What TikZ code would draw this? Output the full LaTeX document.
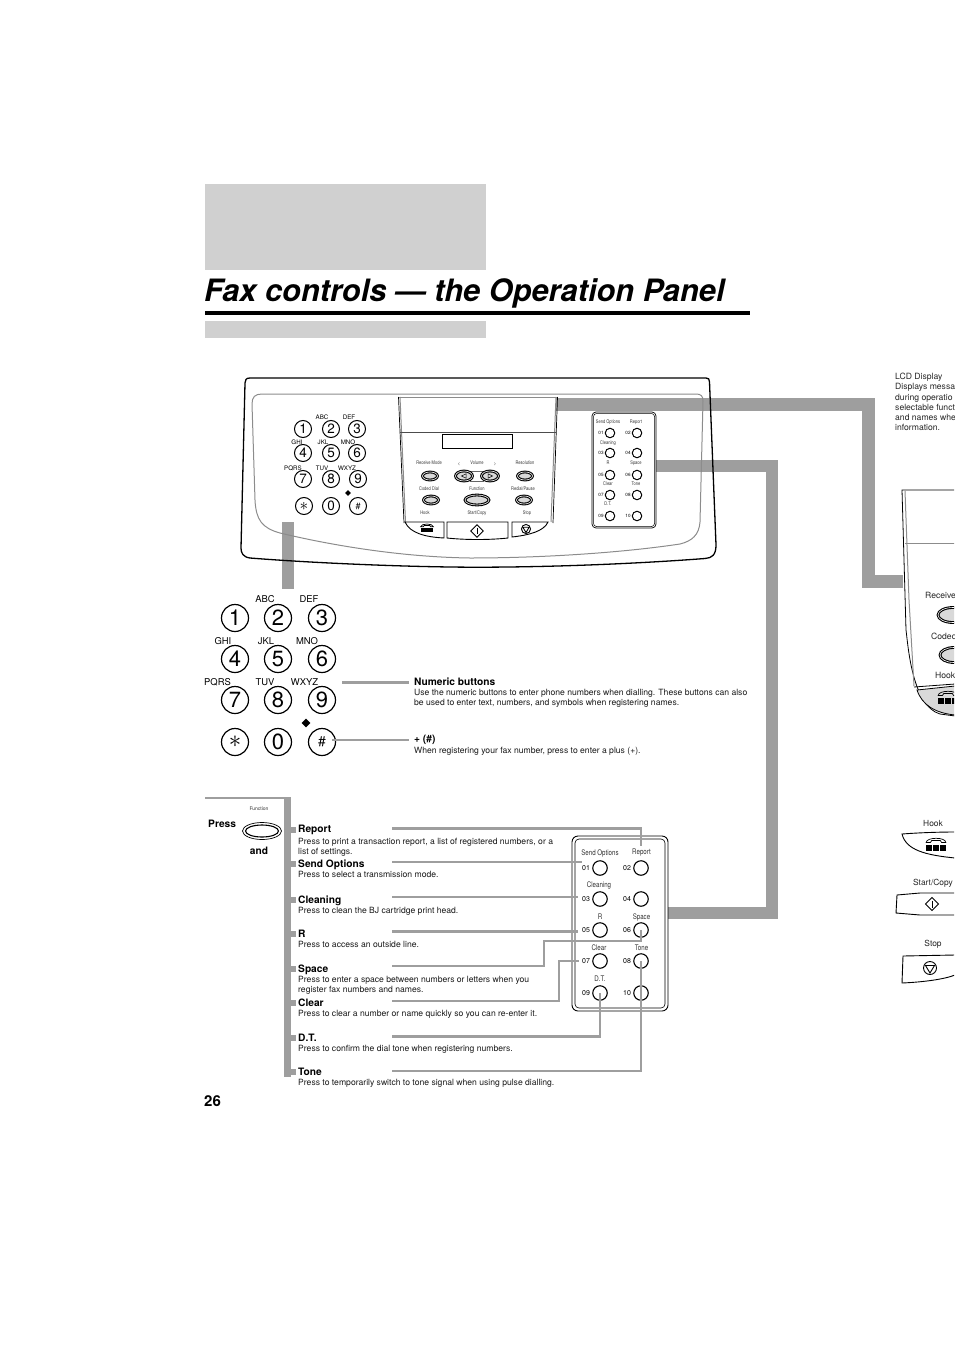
\documentclass[tikz,border=0pt]{standalone}
\usepackage{fontspec}
\setmainfont{TeX Gyre Heros}
\newfontfamily\condfont[FakeStretch=0.8]{TeX Gyre Heros}
\usetikzlibrary{shapes.geometric,positioning}
\definecolor{band}{HTML}{9E9E9E}
\definecolor{pale}{HTML}{D0D0D0}
\definecolor{lab}{HTML}{333333}
\tikzset{
  bandline/.style={draw=band,line width=12.5pt,line join=miter},
  wire/.style={draw=band,line width=2.4pt,line join=miter},
  softline/.style={draw=black!45,line width=1pt,line join=round},
  head/.style={anchor=base west,inner sep=0,font=\fontsize{10.2}{11}\bfseries\selectfont},
  body/.style={anchor=base west,inner sep=0,font=\fontsize{8.6}{10}\selectfont,text=black!90},
  side/.style={anchor=base west,inner sep=0,font=\fontsize{8.6}{10}\selectfont,text=black!85},
  sidelab/.style={anchor=base,inner sep=0,font=\fontsize{8.4}{10}\selectfont,text=black!85},
  tiny/.style={anchor=center,inner sep=0,font=\condfont\fontsize{5}{6}\selectfont,text=lab},
  minilab/.style={anchor=center,inner sep=0,font=\condfont\fontsize{7.7}{8}\selectfont,text=lab},
  keybig/.style={circle,draw=black,line width=1.2pt,fill=white,minimum size=27pt,inner sep=0,font=\fontsize{22}{22}\selectfont},
  keysmall/.style={circle,draw=black,line width=1pt,fill=white,minimum size=17pt,inner sep=0,font=\fontsize{13.5}{14}\selectfont},
  ltrbig/.style={anchor=center,inner sep=0,font=\fontsize{9.4}{10}\selectfont},
  ltrsmall/.style={anchor=center,inner sep=0,font=\fontsize{6.2}{7}\selectfont},
  oval/.style={ellipse,draw=black,line width=1.1pt,fill=black!15,double=white,double distance=.6pt,inner sep=0},
  round btn/.style={circle,draw=black,line width=1pt,fill=white,inner sep=0},
  rowno/.style={anchor=center,inner sep=0,font=\fontsize{7}{8}\selectfont},
  rowsmall/.style={anchor=center,inner sep=0,font=\fontsize{4.6}{5}\selectfont},
  gem/.style={diamond,fill=black,inner sep=0,minimum size=#1},
}
\newcommand{\phonemark}[3]{%
  \begin{scope}[shift={(#1,#2)},scale=#3]
    \draw[line width=.7pt] (-7,-2.5) .. controls (-7,-6.5) and (7,-6.5) .. (7,-2.5) -- (4,-2.5) -- (3,-4) -- (-3,-4) -- (-4,-2.5) -- cycle;
    \fill (-7,-.8) rectangle (-2.6,3.6);
    \fill (-2.2,-.8) rectangle (2.2,3.6);
    \fill (2.6,-.8) rectangle (7,3.6);
  \end{scope}}
\newcommand{\startmark}[3]{%
  \begin{scope}[shift={(#1,#2)},scale=#3]
    \draw[line width=.9pt,fill=white] (-6.5,0) -- (0,-6.5) -- (6.5,0) -- (0,6.5) -- cycle;
    \draw[line width=1pt] (0,-3.5) -- (0,3.5);
  \end{scope}}
\newcommand{\stopmark}[3]{%
  \begin{scope}[shift={(#1,#2)},scale=#3]
    \draw[line width=.9pt] (0,0) circle (6.5);
    \draw[line width=.9pt] (-4.5,-2.5) -- (4.5,-2.5) -- (0,5) -- cycle;
  \end{scope}}
\begin{document}
\begin{tikzpicture}[x=1pt,y=-1pt]
\useasboundingbox (0,0) rectangle (954,1351);
\clip (0,0) rectangle (954,1351);

% header blocks
\fill[pale] (205,184) rectangle (486,270);
\fill[black] (205,311) rectangle (750,315);
\fill[pale] (205,321) rectangle (486,338);
\node[anchor=base west,inner sep=0,font=\fontsize{30.8}{31}\bfseries\itshape\selectfont] (title) at (204,301) {Fax controls --- the Operation Panel};

% bands behind the panel
\coordinate (bandAs) at (556,404.5);
\coordinate (bandAa) at (868.5,404.5);
\coordinate (bandAb) at (868.5,581.5);
\coordinate (bandAe) at (903,581.5);
\draw[bandline] (bandAs) -- (bandAa) -- (bandAb) -- (bandAe);
\coordinate (bandBs) at (656,466);
\coordinate (bandBa) at (772,466);
\coordinate (bandBb) at (772,913);
\coordinate (bandBe) at (668,913);
\draw[bandline] (bandBs) -- (bandBa) -- (bandBb) -- (bandBe);
\coordinate (bandCs) at (288,522);
\coordinate (bandCe) at (288,589);
\draw[bandline] (bandCs) -- (bandCe);

% operation panel
\draw[line width=1.3pt,line join=round] (250,378) -- (706,378) .. controls (709,378) and (709,379) .. (709.5,382) -- (716,545) .. controls (716,555) and (712,558) .. (705,558.5) .. controls (620,565) and (520,568) .. (450,567) .. controls (380,566) and (300,562) .. (250,558) .. controls (243,557) and (241,553) .. (241,548) -- (245,383) .. controls (245,380) and (246,378) .. (250,378) -- cycle;
\draw[softline] (262,394) -- (696,394) .. controls (701,394) and (703,396) .. (703,401) -- (700,522) .. controls (699,535) and (692,541) .. (680,544) .. controls (620,553) and (540,558) .. (470,558) .. controls (400,557) and (330,545) .. (280,533) .. controls (262,528) and (256,520) .. (255,500) -- (252,404) .. controls (252,397) and (255,394) .. (262,394) -- cycle;

% display housing
\draw[softline] (400,397) -- (405.5,522);
\draw[line width=.7pt] (398.5,397) -- (404,523);
\draw[softline] (556,397) -- (551,522);
\draw[line width=.7pt] (557.5,397) -- (553,523);
\draw[softline] (399,397.5) -- (557,397.5);
\draw[line width=.7pt,black!70] (400,432) -- (556,432);
\draw[line width=1pt] (442,434.5) rectangle (512,448.5);
\draw[line width=.9pt] (405,522) -- (444,522) -- (444,538) .. controls (425,537) and (410,533) .. (405,522) -- cycle;
\draw[line width=.9pt] (447,522) -- (508,522) -- (508,538) .. controls (490,540) and (465,540) .. (447,538) -- cycle;
\draw[line width=.9pt] (512,522) -- (548,522) .. controls (544,531) and (530,535) .. (512,537) -- cycle;
\phonemark{427}{529}{.9}
\startmark{477}{531}{.95}
\stopmark{526}{529}{.7}

% panel ovals
\foreach \n/\x/\y/\w/\h in {recv/430/476/15/8,res/525/476/15/8,coded/431/500/15/8,func/477/500/24/10,redial/524/500/15/8}
  \node[oval,minimum width=\w pt,minimum height=\h pt] (pan\n) at (\x,\y) {};
\draw[line width=.7pt,black!60] (470,471) -- (484,471) (470,481) -- (484,481);
\foreach \n/\x in {volL/464,volR/490}
  \node[oval,minimum width=17pt,minimum height=10pt] (pan\n) at (\x,476) {};
\draw[line width=.5pt] (461.5,476) -- (466,473.8) -- (466,478.2) -- cycle;
\draw[line width=.5pt] (492.5,476) -- (488,473.8) -- (488,478.2) -- cycle;
\foreach \n/\x/\y/\t in {a/429/463/Receive Mode,b/459/464/<,c/477/463/Volume,d/495/464/>,e/525/463/Resolution,f/429/489/Coded Dial,g/477/489/Function,h/523/489/{Redial/Pause},i/425/513/Hook,j/477/513/{Start/Copy},k/527/513/Stop}
  \node[tiny] (pl\n) at (\x,\y) {\t};

% small keypad on panel
\foreach \n/\x/\y/\t in {1/303/429/1,2/331/429/2,3/357/429/3,4/303/453/4,5/331/453/5,6/357/453/6,7/303/479/7,8/331/479/8,9/358/479/9,0/331/506/0}
  \node[keysmall] (s\n) at (\x,\y) {\t};
\node[keysmall,font=\fontsize{9}{9}\selectfont] (sh) at (358,506) {\#};
\node[keysmall,font=\fontsize{19}{19}\selectfont] (sast) at (304,506) {$\ast$};
\foreach \n/\x/\y/\t in {a/322/417/ABC,b/349/417/DEF,c/297/442/GHI,d/323/442/JKL,e/348/442/MNO,f/293/468/PQRS,g/322/468/TUV,h/347/468/WXYZ}
  \node[ltrsmall] (sl\n) at (\x,\y) {\t};
\node[gem=6pt] (sgem) at (348,493) {};

% memory strip on panel
\draw[line width=.7pt,rounded corners=4pt] (592,412) rectangle (656,528);
\draw[line width=.5pt,rounded corners=3pt] (593.5,413.5) rectangle (654.5,526.5);
\foreach \n/\x/\y/\t in {01/610/433/01,02/637/433/02,03/610/453/03,04/637/453/04,05/610/475/05,06/637/475/06,07/610/495/07,08/637/495/08,09/610/516/09,10/637/516/10}{
  \node[round btn,minimum size=9.5pt] (p\n) at (\x,\y) {};
  \node[rowsmall,left=1pt of p\n] (pn\n) {\t};
}
\foreach \n/\x/\y/\t in {a/608/422/Send Options,b/636/422/Report,c/608/443/Cleaning,d/608/463/R,e/636/463/Space,f/608/484/Clear,g/636/484/Tone,h/608/504/D.T.}
  \node[tiny] (pm\n) at (\x,\y) {\t};

% large keypad
\foreach \n/\x/\y/\t in {1/235/618/1,2/278/618/2,3/322/618/3,4/235/659/4,5/278/659/5,6/322/659/6,7/235/700/7,8/278/700/8,9/322/700/9,0/278/742/0}
  \node[keybig] (b\n) at (\x,\y) {\t};
\node[keybig,font=\fontsize{30}{30}\selectfont] (bast) at (235,742) {$\ast$};
\node[keybig,font=\fontsize{14}{14}\selectfont] (bh) at (322,742) {\#};
\foreach \n/\x/\y/\t in {a/265/599/ABC,b/309/599/DEF,c/223/641/GHI,d/266/641/JKL,e/307/641/MNO,f/217.5/682/PQRS,g/265/682/TUV,h/304.5/682/WXYZ}
  \node[ltrbig] (bl\n) at (\x,\y) {\t};
\node[gem=9pt] (bgem) at (306,723) {};

% numeric text
\node[head] (tnum) at (414,685) {Numeric buttons};
\node[body] (tnum1) at (414,695) {Use the numeric buttons to enter phone numbers when dialling. These buttons can also};
\node[body] (tnum2) at (414,705) {be used to enter text, numbers, and symbols when registering names.};
\node[head] (tplus) at (414,742) {+ (\#)};
\node[body] (tplus1) at (414,753) {When registering your fax number, press to enter a plus (+).};
\coordinate (numS) at (342,682.5);
\coordinate (numE) at (409,682.5);
\draw[draw=band,line width=2.6pt] (numS) -- (numE);
\coordinate (hashS) at (332,740);
\coordinate (hashE) at (409,740);
\draw[draw=band,line width=1.4pt] (hashS) -- (hashE);

% press block
\coordinate (brT) at (287.5,798);
\coordinate (brL) at (205,798);
\coordinate (brB) at (287.5,1077);
\draw[draw=band,line width=2pt] (brL) -- (brT);
\draw[draw=band,line width=7.5pt] (287.5,797) -- (brB);
\foreach \n/\y in {a/829.5,b/864,c/900,d/934,e/969,f/1003,g/1038,h/1072}
  \fill[band] (290,\y-3) rectangle (296,\y+3);
\node[head] (tpress) at (208,827) {Press};
\node[tiny,font=\fontsize{5}{6}\selectfont] (tfun) at (259,809) {Function};
\node[ellipse,draw=black,line width=.7pt,fill=white,minimum width=39pt,minimum height=17pt,inner sep=0] (poval) at (262,831) {};
\node[ellipse,draw=black,line width=1.1pt,fill=white,minimum width=33pt,minimum height=12pt,inner sep=0] (poval2) at (262,831) {};
\node[head,anchor=base] (tand) at (259,854) {and};

% function list
\node[head] (h1) at (298,832.5) {Report};
\node[body] (t1a) at (298,844) {Press to print a transaction report, a list of registered numbers, or a};
\node[body] (t1b) at (298,854) {list of settings.};
\node[head] (h2) at (298,867) {Send Options};
\node[body] (t2) at (298,877) {Press to select a transmission mode.};
\node[head] (h3) at (298,903) {Cleaning};
\node[body] (t3) at (298,913) {Press to clean the BJ cartridge print head.};
\node[head] (h4) at (298,937) {R};
\node[body] (t4) at (298,947) {Press to access an outside line.};
\node[head] (h5) at (298,972) {Space};
\node[body] (t5a) at (298,982) {Press to enter a space between numbers or letters when you};
\node[body] (t5b) at (298,992) {register fax numbers and names.};
\node[head] (h6) at (298,1006) {Clear};
\node[body] (t6) at (298,1016) {Press to clear a number or name quickly so you can re-enter it.};
\node[head] (h7) at (298,1041) {D.T.};
\node[body] (t7) at (298,1051) {Press to confirm the dial tone when registering numbers.};
\node[head] (h8) at (298,1075) {Tone};
\node[body] (t8) at (298,1085) {Press to temporarily switch to tone signal when using pulse dialling.};
\node[anchor=base west,inner sep=0,font=\fontsize{15}{16}\bfseries\selectfont] (pageno) at (204,1106) {26};

% enlarged strip
\draw[line width=.9pt,rounded corners=6pt] (572,836) rectangle (668,1011);
\draw[line width=.6pt,rounded corners=4pt] (575,839) rectangle (665,1008);
\foreach \n/\x/\y/\t in {01/600/868/01,02/641/868/02,03/600/899/03,04/641/899/04,05/600/930/05,06/641/930/06,07/600/961/07,08/641/961/08,09/600/993/09,10/641/993/10}{
  \node[round btn,line width=1.1pt,minimum size=14.5pt] (m\n) at (\x,\y) {};
  \node[rowno,left=2pt of m\n] (mn\n) {\t};
}
\foreach \n/\x/\y/\t in {a/600/853/Send Options,b/641.5/853/Report,c/599/885/Cleaning,d/600/917/R,e/641.5/917/Space,f/599/948/Clear,g/641.5/948/Tone,h/600/979/D.T.}
  \node[minilab] (ml\n) at (\x,\y) {\t};

% connectors to the enlarged strip
\coordinate (w1s) at (392,828.5);
\coordinate (w1e) at (641,846);
\draw[wire] (w1s) -| (w1e);
\coordinate (w2s) at (392,862);
\coordinate (w2e) at (582,862);
\draw[wire] (w2s) -- (w2e);
\coordinate (w3s) at (392,897);
\coordinate (w3e) at (578,897);
\draw[wire] (w3s) -- (w3e);
\coordinate (w4s) at (392,931.5);
\coordinate (w4e) at (578,931.5);
\draw[wire] (w4s) -- (w4e);
\coordinate (w5s) at (392,966);
\coordinate (w5a) at (544,966);
\coordinate (w5b) at (544,941);
\draw[wire] (w5s) -- (w5a) -- (w5b) -| (m06.center);
\coordinate (w6s) at (392,1001);
\coordinate (w6a) at (559,1001);
\coordinate (w6b) at (559,961);
\coordinate (w6e) at (579,961);
\draw[wire] (w6s) -- (w6a) -- (w6b) -- (w6e);
\coordinate (w7s) at (392,1036.5);
\draw[wire] (w7s) -| (m09.center);
\coordinate (w8s) at (392,1071);
\draw[wire] (w8s) -| (m08.center);

% LCD note, cut by the page edge
\node[side] (lcd1) at (895,379) {LCD Display};
\node[side] (lcd2) at (895,389) {Displays messa};
\node[side] (lcd3) at (895,400) {during operatio};
\node[side] (lcd4) at (895,410) {selectable funct};
\node[side] (lcd5) at (895,420) {and names whe};
\node[side] (lcd6) at (895,430) {information.};

% panel fragment at the page edge
\draw[line width=.8pt] (955,490) -- (902,490) -- (906,630) .. controls (908,645) and (912,706) .. (940,714) -- (955,716);
\draw[softline] (905,491) -- (909,600) -- (914,686);
\draw[softline] (905,543.5) -- (955,543.5);
\draw[line width=.8pt] (914,687) -- (955,684);
\draw[line width=.8pt,fill=black!15] (917,690) -- (955,686) -- (955,715) .. controls (935,713) and (922,705) .. (917,690) -- cycle;
\phonemark{948}{699}{1.4}
\node[side] (fr1) at (925,598) {Receive};
\node[side] (fr2) at (931,639) {Codec};
\node[side] (fr3) at (935,678) {Hook};
\node[oval,minimum width=30pt,minimum height=15pt] (fro1) at (953,615) {};
\node[oval,minimum width=28pt,minimum height=15pt] (fro2) at (954,655) {};

% buttons at the page edge
\node[sidelab] (lhook) at (933,826) {Hook};
\draw[line width=.9pt] (955,832) .. controls (935,832) and (915,833) .. (902,834) .. controls (906,850) and (925,855) .. (955,858);
\phonemark{936}{846}{1.4}
\node[sidelab] (lstart) at (933,885) {Start/Copy};
\draw[line width=.9pt] (955,893) -- (920,893) -- (897,895) -- (896,913) -- (920,915) -- (955,915);
\startmark{932}{904}{1}
\node[sidelab] (lstop) at (933,946) {Stop};
\draw[line width=.9pt] (955,955) -- (903,956) -- (902,983) .. controls (925,982) and (945,979) .. (955,975);
\stopmark{930}{968}{1}
\end{tikzpicture}
\end{document}
